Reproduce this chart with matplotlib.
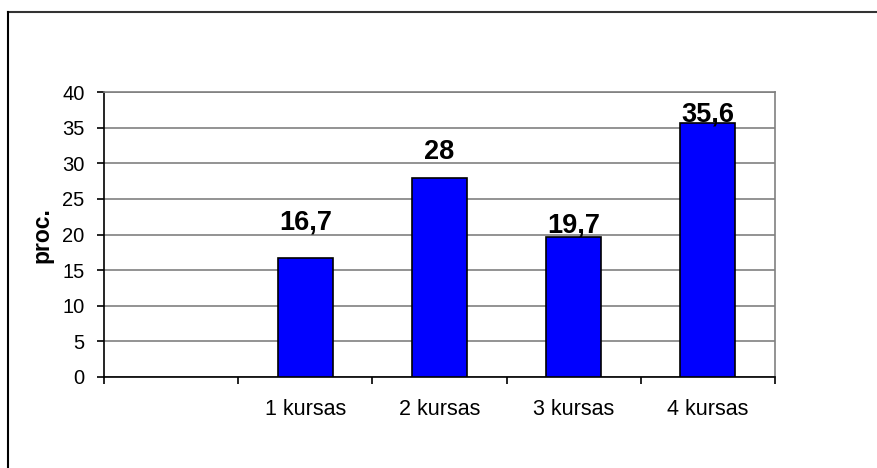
import matplotlib
matplotlib.use("Agg")
import matplotlib.pyplot as plt
from matplotlib.lines import Line2D

categories = ["", "1 kursas", "2 kursas", "3 kursas", "4 kursas"]
values = [None, 16.7, 28, 19.7, 35.6]
value_labels = ["", "16,7", "28", "19,7", "35,6"]
y_ticks = [0, 5, 10, 15, 20, 25, 30, 35, 40]

label_offsets_px = [0, 29, 18.5, 4.6, 1.8]

plt.rcParams['font.family'] = ['Liberation Sans', 'DejaVu Sans']

W, H = 878, 468
fig = plt.figure(figsize=(W / 100, H / 100), dpi=100)
fig.patch.set_facecolor("white")

ax = fig.add_axes([104 / W, (H - 377) / H, 671 / W, 285 / H])

xs = list(range(len(categories)))
bar_x = [x for x, v in zip(xs, values) if v is not None]
bar_v = [v for v in values if v is not None]
ax.bar(bar_x, bar_v, width=0.41, color="#0000FF", edgecolor="black", linewidth=1.2, zorder=3)

for x, v, lab, off in zip(xs, values, value_labels, label_offsets_px):
    if v is None:
        continue
    ax.annotate(lab, (x, v), xytext=(0, off), textcoords="offset pixels",
                ha="center", va="baseline", fontsize=19.5, fontweight="bold", zorder=4)

ax.set_xlim(-0.5, len(categories) - 0.5)
ax.set_ylim(0, 40)
ax.set_yticks(y_ticks)
ax.set_yticklabels([str(t) for t in y_ticks], fontsize=14.5)
ax.yaxis.grid(True, color="#808080", linewidth=1.2, zorder=0)
ax.set_axisbelow(True)

ax.set_xticks(xs)
ax.set_xticklabels(categories, fontsize=15.5)
ax.set_xticks([x - 0.5 for x in xs] + [len(categories) - 0.5], minor=True)
ax.tick_params(axis="x", which="major", length=0, pad=15.5)
ax.tick_params(axis="x", which="minor", length=5, width=1.2, direction="out", color="black")
ax.tick_params(axis="y", which="major", length=5, width=1.2, direction="out", color="black", pad=9)

for s in ["left", "bottom"]:
    ax.spines[s].set_color("black")
    ax.spines[s].set_linewidth(1.2)
for s in ["top", "right"]:
    ax.spines[s].set_color("#808080")
    ax.spines[s].set_linewidth(1.2)

ax.set_ylabel("proc.", fontsize=16.5, fontweight="bold")
ax.yaxis.set_label_coords((53 - 104) / 671, (377 - 235) / 285)

fig.add_artist(Line2D([8 / W, 1.0], [(H - 11.5) / H, (H - 11.5) / H], color="#333333", linewidth=1.5))
fig.add_artist(Line2D([8 / W, 8 / W], [0, (H - 11.5) / H], color="black", linewidth=1.5))

fig.savefig("out.png", dpi=100, facecolor="white")
